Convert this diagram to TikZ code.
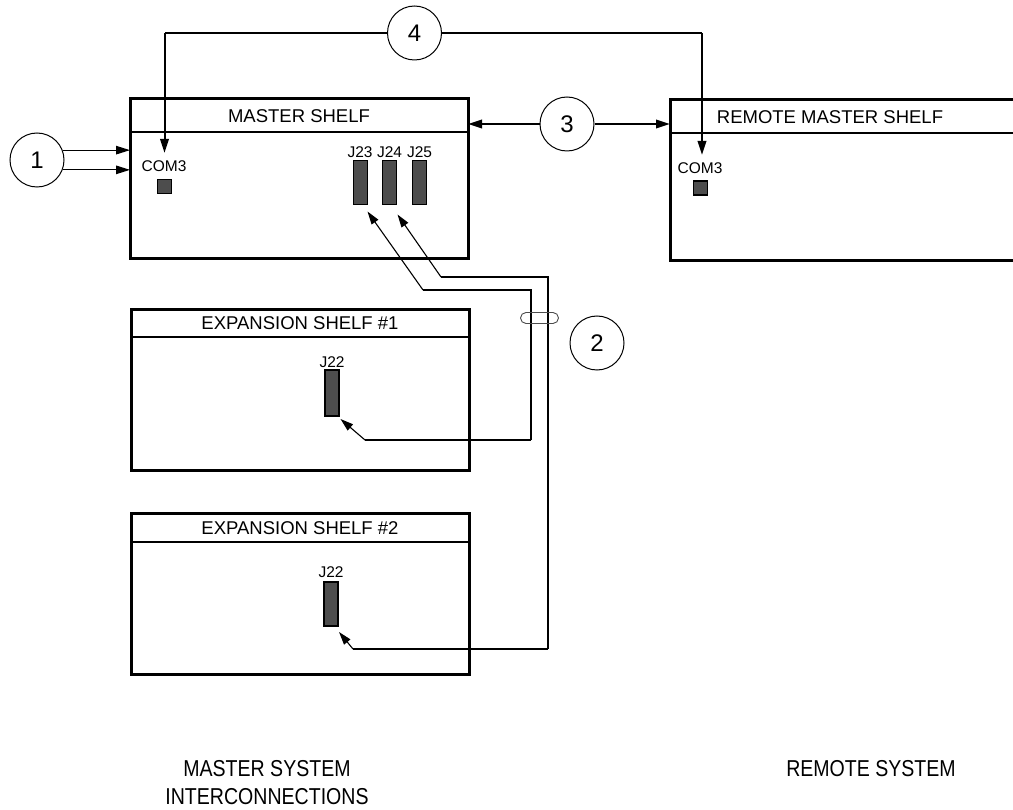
\documentclass[tikz,border=0pt]{standalone}
\usepackage{fontspec}
\setmainfont{Liberation Sans}
\newfontfamily\narrowfont[FakeStretch=0.85]{Liberation Sans}
\usetikzlibrary{arrows.meta}
\definecolor{jackgray}{RGB}{77,77,77}
\begin{document}
\begin{tikzpicture}[x=1pt,y=-1pt,
  shelf/.style={draw, line width=3pt, rectangle, inner sep=0pt, outer sep=0pt},
  divider/.style={line width=2pt},
  title/.style={font=\fontsize{18.5}{20}\selectfont, inner sep=0pt},
  lbl/.style={font=\fontsize{15.5}{16}\selectfont, inner sep=0pt},
  jack/.style={draw, line width=1.5pt, fill=jackgray, rectangle, inner sep=0pt, outer sep=0pt, minimum width=14pt},
  numc/.style={draw, circle, line width=1pt, minimum size=54pt, inner sep=0pt, font=\fontsize{24}{26}\selectfont},
  tip/.style={-{Triangle[length=14pt,width=8.5pt]}},
  smalltip/.style={-{Triangle[length=13pt,width=8pt]}},
  thinline/.style={line width=1.1pt},
  thickline/.style={line width=2pt},
  tie/.style={draw=black!70, line width=0.9pt, rectangle, rounded corners=5.5pt, minimum width=38pt, minimum height=11pt, inner sep=0pt},
  caption/.style={font=\narrowfont\fontsize{23}{28}\selectfont, align=center, inner sep=0pt}
]
\useasboundingbox (0,0) rectangle (1013,810);
\clip (0,0) rectangle (1013,810);

% shelves
\node[shelf, minimum width=338pt, minimum height=160pt] (master) at (299,179) {};
\draw[divider] ([yshift=-33pt]master.north west) -- ([yshift=-33pt]master.north east);
\node[title] (mastertitle) at (299,116) {MASTER SHELF};

\node[shelf, minimum width=360pt, minimum height=161pt] (remote) at (850,180.5) {};
\draw[divider] ([yshift=-33pt]remote.north west) -- ([yshift=-33pt]remote.north east);
\node[title] (remotetitle) at (830,117) {REMOTE MASTER SHELF};

\node[shelf, minimum width=338pt, minimum height=161pt] (exp1) at (300,390.5) {};
\draw[divider] ([yshift=-27pt]exp1.north west) -- ([yshift=-27pt]exp1.north east);
\node[title] (exp1title) at (300,323) {EXPANSION SHELF \#1};

\node[shelf, minimum width=338pt, minimum height=161pt] (exp2) at (300,593.5) {};
\draw[divider] ([yshift=-29pt]exp2.north west) -- ([yshift=-29pt]exp2.north east);
\node[title] (exp2title) at (300,528) {EXPANSION SHELF \#2};

% jacks
\node[jack, minimum height=14pt] (com3m) at (164.5,186.5) {};
\node[lbl] (com3mlbl) at (164,166) {COM3};
\node[jack, minimum height=14pt] (com3r) at (700.5,188) {};
\node[lbl] (com3rlbl) at (700,168) {COM3};

\node[jack, minimum height=44pt] (j23) at (360.5,182.5) {};
\node[jack, minimum height=44pt] (j24) at (389.5,182.5) {};
\node[jack, minimum height=44pt] (j25) at (419.5,182.5) {};
\node[lbl] (j23lbl) at (360,152) {J23};
\node[lbl] (j24lbl) at (389.5,152) {J24};
\node[lbl] (j25lbl) at (419.5,152) {J25};

\node[jack, minimum height=46pt] (j22a) at (332,393) {};
\node[lbl] (j22albl) at (332,362) {J22};
\node[jack, minimum height=44pt] (j22b) at (331,604) {};
\node[lbl] (j22blbl) at (331,572) {J22};

% numbered circles
\node[numc] (c1) at (37,160) {1};
\node[numc] (c2) at (597,343) {2};
\node[numc] (c3) at (567,124) {3};
\node[numc] (c4) at (414.5,33) {4};

% 1
\draw[thinline, tip] (c1.21) -- (c1.21 -| master.west);
\draw[thinline, tip] (c1.-21) -- (c1.-21 -| master.west);

% 3
\draw[thickline, tip] (c3.west) -- (c3.west -| master.east);
\draw[thickline, tip] (c3.east) -- (c3.east -| remote.west);

% 4
\coordinate (t4a) at (164.5,153);
\coordinate (t4b) at (702,155);
\draw[thinline] (c4.west) -- (c4.west -| t4a);
\draw[thickline, tip] (c4.west -| t4a) -- (t4a);
\draw[thinline] (c4.east) -- (c4.east -| t4b);
\draw[thickline, tip] (c4.east -| t4b) -- (t4b);

% 2 : cables
\coordinate (a1) at (423,290);
\coordinate (a2) at (531,290);
\coordinate (a3) at (531,440);
\coordinate (a4) at (365,440);
\coordinate (b1) at (441,277);
\coordinate (b2) at (548,277);
\coordinate (b3) at (548,649);
\coordinate (b4) at (353,649);
\draw[thickline, line join=miter] (a1) -- (a2) -- (a3);
\draw[thinline] (a3) -- (a4);
\draw[thinline, smalltip] (a1) -- ([shift={(0pt,-7pt)}]j23.south east);
\draw[thinline, smalltip] (a4) -- ([shift={(1.5pt,-3pt)}]j22a.south east);
\draw[thickline, line join=miter] (b1) -- (b2) -- (b3);
\draw[thinline] (b3) -- (b4);
\draw[thinline, smalltip] (b1) -- ([shift={(1pt,-10pt)}]j24.south east);
\draw[thinline, smalltip] (b4) -- ([shift={(1pt,-6pt)}]j22b.south east);

\node[tie] (tie) at (539.5,318) {};

% captions
\node[caption] (mastercap) at (267,783) {MASTER SYSTEM\\INTERCONNECTIONS};
\node[caption] (remotecap) at (871,769) {REMOTE SYSTEM};
\end{tikzpicture}
\end{document}
